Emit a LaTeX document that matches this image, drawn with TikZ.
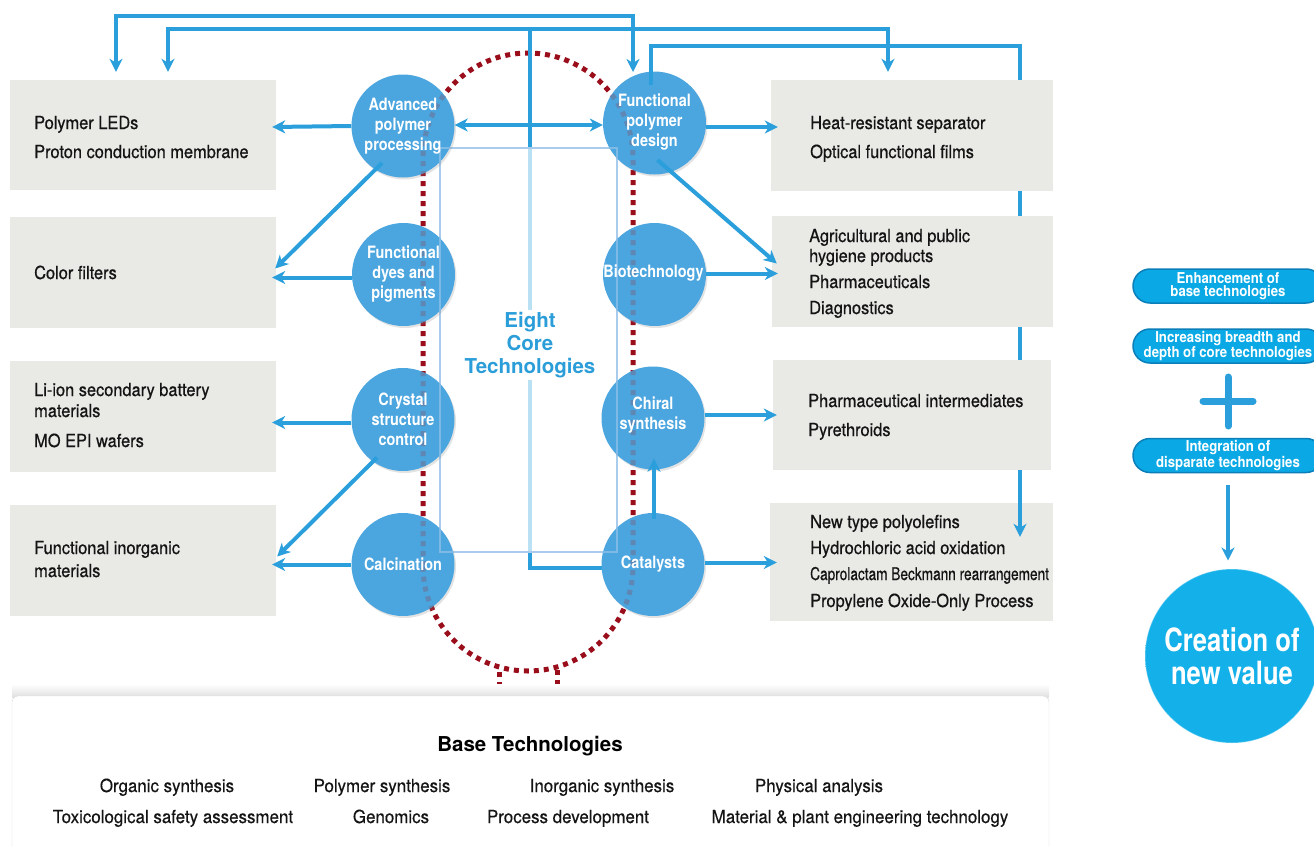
\documentclass[tikz,border=0pt]{standalone}
\usepackage{fontspec}
\setmainfont{TeX Gyre Heros}
\newfontfamily\myboxf{TeX Gyre Heros}[FakeStretch=0.91,FakeBold=0.6]
\newfontfamily\mybasef{TeX Gyre Heros}[FakeStretch=0.94,FakeBold=0.4]
\newfontfamily\mynarrowf{TeX Gyre Heros}[FakeStretch=0.78,FakeBold=0.6]
\newfontfamily\mycircf{TeX Gyre Heros}[FakeStretch=0.85]
\newfontfamily\mypillf{TeX Gyre Heros}[FakeStretch=0.88]
\newfontfamily\mybigf{TeX Gyre Heros}[FakeStretch=0.8]
\usetikzlibrary{arrows.meta,calc,shadows}
\definecolor{circblue}{HTML}{4BA5DF}
\definecolor{connblue}{HTML}{2A9FDB}
\definecolor{boxgray}{HTML}{E9EAE6}
\definecolor{dotred}{HTML}{9A0E1C}
\definecolor{dotseen}{HTML}{5E87B4}
\definecolor{rectblue}{HTML}{A9CBEC}
\definecolor{cyanpill}{HTML}{0AA9E5}
\definecolor{cyanedge}{HTML}{0A7FBA}
\definecolor{coretext}{HTML}{2B9ED9}
\definecolor{ballin}{HTML}{14B0E9}
\definecolor{ballout}{HTML}{6CCDF2}
\pgfdeclarelayer{lowest}
\pgfdeclarelayer{lower}
\pgfsetlayers{lowest,lower,main}
\pgfdeclareradialshading{ballshade}{\pgfpoint{0bp}{0bp}}{color(0bp)=(ballin); color(42bp)=(ballin); color(50bp)=(ballout)}
\tikzset{
  Arr/.tip={Stealth[length=13pt,width=13pt,inset=4pt]},
  conn/.style={draw=connblue, line width=4pt},
  dots/.style={draw=dotred, line width=5pt, dash pattern=on 5pt off 5pt},
  core/.style={circle, fill=circblue, minimum size=103pt, inner sep=0pt,
    drop shadow={opacity=0.22, shadow xshift=1.5pt, shadow yshift=-2pt}},
  coretxt/.style={inner sep=0pt, text=white, align=center,
    font=\mycircf\bfseries\fontsize{17}{20}\selectfont},
  gbox/.style={fill=boxgray, inner sep=0pt, draw=none},
  btext/.style={anchor=base west, inner sep=0pt, text=black!92,
    font=\myboxf\fontsize{18}{20}\selectfont},
  basetext/.style={anchor=base, inner sep=0pt, text=black!92,
    font=\mybasef\fontsize{18}{20}\selectfont},
  pill/.style={rounded corners=17pt, fill=cyanpill, draw=cyanedge, line width=1.5pt,
    minimum width=190pt, minimum height=34pt, inner sep=0pt, text=white, align=center,
    font=\mypillf\bfseries\fontsize{15}{13}\selectfont},
}
\begin{document}
\begin{tikzpicture}[x=1pt,y=-1pt]
\useasboundingbox (0,0) rectangle (1314,846);
\begin{pgfonlayer}{lowest}
\fill[white] (0,0) rectangle (1314,846);
\end{pgfonlayer}

% dotted stadium
\draw[dots] (423,566) -- (423,158) arc[start angle=180,end angle=360,radius=105] -- (633,566) arc[start angle=0,end angle=180,radius=105];
\draw[dots] (499,672) -- (499,696);
\draw[dots] (557,670) -- (557,696);

% base technologies box
\shade[top color=white, bottom color=black!12] (12,684) rectangle (1049,697);
\node[draw=black!15, fill=white, rounded corners=6pt, minimum width=1037pt, minimum height=170pt, inner sep=0pt] (base) at (530.5,781) {};
\node[anchor=base, inner sep=0pt, font=\bfseries\fontsize{20.5}{22}\selectfont] (basetitle) at (530,751) {Base Technologies};
\node[basetext] (b1) at (167,792) {Organic synthesis};
\node[basetext] (b2) at (382,792) {Polymer synthesis};
\node[basetext] (b3) at (602,792) {Inorganic synthesis};
\node[basetext] (b4) at (819,792) {Physical analysis};
\node[basetext] (b5) at (173,823) {Toxicological safety assessment};
\node[basetext] (b6) at (391,823) {Genomics};
\node[basetext] (b7) at (568,823) {Process development};
\node[basetext] (b8) at (860,823) {Material \& plant engineering technology};

% grey boxes
\node[gbox, minimum width=266pt, minimum height=110pt] (l1) at (143,135) {};
\node[gbox, minimum width=266pt, minimum height=111pt] (l2) at (143,272.5) {};
\node[gbox, minimum width=266pt, minimum height=111pt] (l3) at (143,416.5) {};
\node[gbox, minimum width=266pt, minimum height=111pt] (l4) at (143,560.5) {};
\node[gbox, minimum width=282pt, minimum height=111pt] (r1) at (912,135.5) {};
\node[gbox, minimum width=281pt, minimum height=111pt] (r2) at (912.5,271.5) {};
\node[gbox, minimum width=278pt, minimum height=110pt] (r3) at (912,415) {};
\begin{pgfonlayer}{lowest}
\node[gbox, minimum width=283pt, minimum height=118pt] (r4) at (911.5,562) {};
\end{pgfonlayer}

\node[btext] (l1a) at (34,129) {Polymer LEDs};
\node[btext] (l1b) at (34,158) {Proton conduction membrane};
\node[btext] (l2a) at (34,279) {Color filters};
\node[btext] (l3a) at (34,396) {Li-ion secondary battery};
\node[btext] (l3b) at (34,417) {materials};
\node[btext] (l3c) at (34,447) {MO EPI wafers};
\node[btext] (l4a) at (34,554) {Functional inorganic};
\node[btext] (l4b) at (34,577) {materials};
\node[btext] (r1a) at (810,129) {Heat-resistant separator};
\node[btext] (r1b) at (810,158) {Optical functional films};
\node[btext] (r2a) at (809,242) {Agricultural and public};
\node[btext] (r2b) at (809,262) {hygiene products};
\node[btext] (r2c) at (809,288) {Pharmaceuticals};
\node[btext] (r2d) at (809,314) {Diagnostics};
\node[btext] (r3a) at (808,407) {Pharmaceutical intermediates};
\node[btext] (r3b) at (808,436) {Pyrethroids};
\node[btext] (r4a) at (810,528) {New type polyolefins};
\node[btext] (r4b) at (810,554) {Hydrochloric acid oxidation};
\node[btext, font=\mynarrowf\fontsize{17.5}{20}\selectfont] (r4c) at (810,580) {Caprolactam Beckmann rearrangement};
\node[btext] (r4d) at (810,607) {Propylene Oxide-Only Process};

% core circle positions
\coordinate (capp) at (403,126);
\coordinate (cfpd) at (654.5,123);
\coordinate (ccat) at (653,564.5);

% tree connector from Catalysts
\coordinate (j1) at (530,29);
\draw[conn,-Arr] ($(ccat)+(-51,3)$) -| (j1) -| ($(l1.north)+(25,-8)$);
\draw[conn,-Arr] (j1) -| ($(r1.north)+(-24,-8)$);

% light rectangle overlay
\fill[white, opacity=0.68] (440,148) rectangle (617,552);
\draw[rectblue, line width=1.2pt] (440,148) rectangle (617,552);

% circles
\node[core] (app) at (capp) {};
\node[core] (fpd) at (cfpd) {};
\node[core] (fdp) at (403.5,274.5) {};
\node[core] (bio) at (654.5,274.5) {};
\node[core] (csc) at (403,419.5) {};
\node[core] (chi) at (653,418) {};
\node[core] (cal) at (403,564.5) {};
\node[core] (cat) at (ccat) {};

% lines seen through the circles
\begin{scope}
\clip (app.center) circle[radius=51.5] (fpd.center) circle[radius=51.5]
      (fdp.center) circle[radius=51.5] (bio.center) circle[radius=51.5]
      (csc.center) circle[radius=51.5] (chi.center) circle[radius=51.5]
      (cal.center) circle[radius=51.5] (cat.center) circle[radius=51.5];
\draw[dots, draw=dotseen] (423,566) -- (423,158) arc[start angle=180,end angle=360,radius=105] -- (633,566) arc[start angle=0,end angle=180,radius=105];
\draw[rectblue!55!circblue, line width=1.2pt] (440,148) rectangle (617,552);
\end{scope}

% circle labels
\node[coretxt] (appt) at (app.center) {Advanced\\polymer\\processing};
\node[coretxt] (fpdt) at ($(fpd.center)+(0,-1)$) {Functional\\polymer\\design};
\node[coretxt] (fdpt) at (fdp.center) {Functional\\dyes and\\pigments};
\node[coretxt] (biot) at ($(bio.center)+(-1,-1)$) {Biotechnology};
\node[coretxt] (csct) at (csc.center) {Crystal\\structure\\control};
\node[coretxt] (chit) at ($(chi.center)+(0,-3)$) {Chiral\\synthesis};
\node[coretxt] (calt) at (cal.center) {Calcination};
\node[coretxt] (catt) at (cat.center) {Catalysts};

% Eight core technologies
\node[fill=white, inner sep=2pt, text=coretext, align=center, font=\bfseries\fontsize{20.5}{23}\selectfont] (eight) at (530,345) {Eight\\Core\\Technologies};

% connectors
\draw[conn,-Arr] (app.west) -- ($(app.west -| l1.east)+(-4,1)$);
\draw[conn,Arr-Arr] ($(app.east)+(0,-1)$) -- ($(app.east -| fpd.west)+(0,-1)$);
\draw[conn,-Arr] ($(app.center)+(-21,37)$) -- ($(l2.east)+(-1,-4)$);
\draw[conn,-Arr] ($(fdp.west)+(0,3)$) -- ($(fdp.west -| l2.east)+(-4,3)$);
\draw[conn,-Arr] ($(csc.west)+(0,3)$) -- ($(csc.west -| l3.east)+(-4,3)$);
\draw[conn,-Arr] ($(csc.center)+(-26,38)$) -- ($(l4.east)+(1,-4)$);
\draw[conn,-Arr] (cal.west) -- ($(cal.west -| l4.east)+(-4,0)$);
\draw[conn,-Arr] ($(fpd.east)+(0,4)$) -- ($(fpd.east -| r1.west)+(7,4)$);
\draw[conn,-Arr] ($(fpd.center)+(3,37)$) -- ($(r2.west)+(5,-8)$);
\draw[conn,-Arr] ($(bio.east)+(0,-1)$) -- ($(bio.east -| r2.west)+(6,-1)$);
\draw[conn,-Arr] ($(chi.east)+(0,-3)$) -- ($(chi.east -| r3.west)+(4,-3)$);
\draw[conn,-Arr] ($(cat.north)+(1,6)$) -- ($(chi.south)+(1,-11)$);
\draw[conn,-Arr] ($(cat.east)+(0,-2)$) -- ($(cat.east -| r4.west)+(7,-2)$);

% top double arrow
\coordinate (t1) at (633,16);
\draw[conn,Arr-Arr] ($(l1.north)+(-27,-8)$) |- (t1) -- ($(fpd.center)+(-21.5,-51)$);

% connector behind right boxes
\coordinate (t3) at (1020,46);
\begin{pgfonlayer}{lower}
\draw[conn,-Arr] ($(fpd.center)+(-4,-38)$) |- (t3) -- ($(r4.north)+(108.5,34)$);
\end{pgfonlayer}
\draw[conn] ($(fpd.center)+(-4,-38)$) -- ($(fpd.center)+(-4,-54)$);

% right column
\node[pill] (p1) at (1228,286) {Enhancement of\\base technologies};
\node[pill] (p2) at (1228,346) {Increasing breadth and\\depth of core technologies};
\node[pill] (p3) at (1228,455.5) {Integration of\\disparate technologies};
\draw[connblue, line width=7pt, line cap=round] (1203,401) -- (1253,401);
\draw[connblue, line width=7pt, line cap=round] (1228,377) -- (1228,426);
\node[circle, minimum size=174pt, inner sep=0pt, shading=ballshade, draw=white, draw opacity=0.35, line width=1pt,
  text=white, align=center, font=\mybigf\bfseries\fontsize{32}{33}\selectfont] (big) at (1232,656) {Creation of\\new value};
\draw[conn,-Arr] ($(p3.south)+(0,12)$) -- ($(big.north)+(-4,-8)$);
\end{tikzpicture}
\end{document}
